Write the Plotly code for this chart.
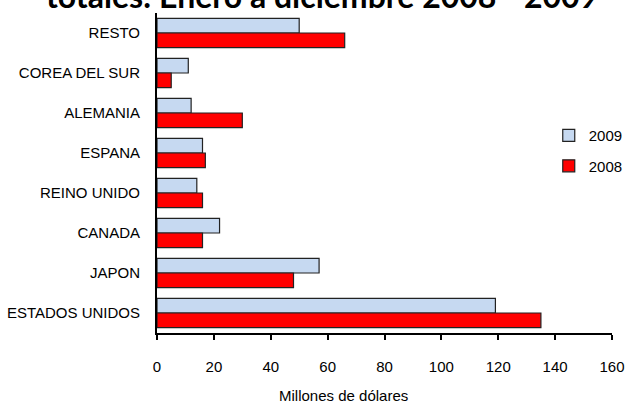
import plotly.graph_objects as go

# categoria de arriba hacia abajo
paises = ['RESTO', 'COREA DEL SUR', 'ALEMANIA', 'ESPANA', 'REINO UNIDO',
          'CANADA', 'JAPON', 'ESTADOS UNIDOS']
v2009 = [50, 11, 12, 16, 14, 22, 57, 119]
v2008 = [66, 5, 30, 17, 16, 16, 48, 135]
x_ticks = [0, 20, 40, 60, 80, 100, 120, 140, 160]

FONT = 'Liberation Sans, Arial, sans-serif'

fig = go.Figure()
fig.add_trace(go.Bar(y=paises, x=v2009, name='2009', orientation='h',
                     marker=dict(color='#C6D9F1', line=dict(color='#222222', width=1.2)),
                     legendgroup='a'))
fig.add_trace(go.Bar(y=paises, x=v2008, name='2008', orientation='h',
                     marker=dict(color='#FF0000', line=dict(color='#222222', width=1.2)),
                     legendgroup='b'))

fig.update_layout(
    width=628, height=404,
    margin=dict(l=157, r=16, t=13, b=71, autoexpand=False),
    paper_bgcolor='white', plot_bgcolor='white',
    barmode='group', bargap=0.27, bargroupgap=0,
    font=dict(family=FONT, size=15, color='black'),
    showlegend=True,
    legend=dict(x=0.861, y=0.57, xanchor='left', yanchor='middle',
                traceorder='grouped', tracegroupgap=8,
                font=dict(size=15), itemwidth=30, bgcolor='rgba(0,0,0,0)'),
    annotations=[
        # titulo cortado arriba, como en el original
        dict(text='<b>totales: Enero a diciembre 2008 - 2009</b>',
             xref='paper', yref='paper', x=0.363, y=1.056,
             xanchor='center', yanchor='middle', showarrow=False,
             font=dict(family='Lato, sans-serif', size=32, color='black')),
        dict(text='Millones de dólares', xref='paper', yref='paper',
             x=0.409, y=-0.194, xanchor='center', yanchor='middle', showarrow=False,
             font=dict(size=15)),
    ],
)
fig.update_yaxes(autorange='reversed', showline=True, linecolor='black', linewidth=2,
                 ticks='', ticklabelstandoff=12, showgrid=False)
fig.update_xaxes(range=[0, 160], tickvals=x_ticks, showline=True, linecolor='black',
                 linewidth=2, ticks='outside', ticklen=5, tickwidth=1.5, tickcolor='black',
                 showgrid=False, zeroline=False, ticklabelstandoff=14)

fig.write_html('out.html', config={'displayModeBar': False},
               post_script="document.body.style.margin='0';document.body.style.overflow='hidden';")
